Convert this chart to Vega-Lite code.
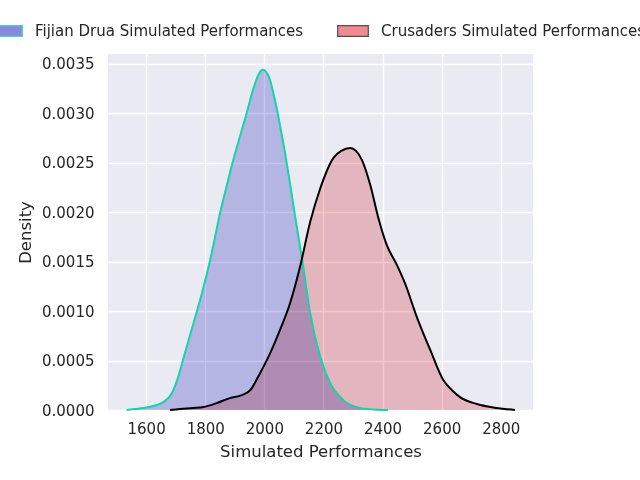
{
  "$schema": "https://vega.github.io/schema/vega-lite/v6.json",
  "autosize": {"type": "none"},
  "width": 425,
  "height": 356,
  "padding": {"left": 108, "top": 54, "right": 107, "bottom": 70},
  "background": "white",
  "config": {
    "font": "DejaVu Sans",
    "view": {"stroke": null, "fill": "#eaeaf2"},
    "axis": {
      "domain": false,
      "ticks": false,
      "grid": true,
      "gridColor": "white",
      "gridWidth": 1.4,
      "labelFont": "DejaVu Sans",
      "labelFontSize": 15,
      "labelColor": "#262626",
      "titleFont": "DejaVu Sans",
      "titleFontSize": 16.5,
      "titleFontWeight": "normal",
      "titleColor": "#262626"
    },
    "legend": {
      "labelFont": "DejaVu Sans",
      "labelFontSize": 15,
      "labelColor": "#262626",
      "labelLimit": 0
    }
  },
  "data": {
    "values": [
      {"team": "Fijian Drua Simulated Performances", "score": 1534, "density": 0},
      {"team": "Fijian Drua Simulated Performances", "score": 1560, "density": 0.00001},
      {"team": "Fijian Drua Simulated Performances", "score": 1590, "density": 0.00002},
      {"team": "Fijian Drua Simulated Performances", "score": 1624, "density": 0.00004},
      {"team": "Fijian Drua Simulated Performances", "score": 1658, "density": 0.00008},
      {"team": "Fijian Drua Simulated Performances", "score": 1687, "density": 0.00017},
      {"team": "Fijian Drua Simulated Performances", "score": 1709, "density": 0.00034},
      {"team": "Fijian Drua Simulated Performances", "score": 1726, "density": 0.00052},
      {"team": "Fijian Drua Simulated Performances", "score": 1749, "density": 0.00076},
      {"team": "Fijian Drua Simulated Performances", "score": 1771, "density": 0.00099},
      {"team": "Fijian Drua Simulated Performances", "score": 1794, "density": 0.00124},
      {"team": "Fijian Drua Simulated Performances", "score": 1810, "density": 0.00143},
      {"team": "Fijian Drua Simulated Performances", "score": 1827, "density": 0.00166},
      {"team": "Fijian Drua Simulated Performances", "score": 1850, "density": 0.00199},
      {"team": "Fijian Drua Simulated Performances", "score": 1873, "density": 0.00227},
      {"team": "Fijian Drua Simulated Performances", "score": 1895, "density": 0.00253},
      {"team": "Fijian Drua Simulated Performances", "score": 1918, "density": 0.00277},
      {"team": "Fijian Drua Simulated Performances", "score": 1940, "density": 0.003},
      {"team": "Fijian Drua Simulated Performances", "score": 1963, "density": 0.00325},
      {"team": "Fijian Drua Simulated Performances", "score": 1980, "density": 0.00339},
      {"team": "Fijian Drua Simulated Performances", "score": 1995, "density": 0.00344},
      {"team": "Fijian Drua Simulated Performances", "score": 2008, "density": 0.00341},
      {"team": "Fijian Drua Simulated Performances", "score": 2019, "density": 0.00334},
      {"team": "Fijian Drua Simulated Performances", "score": 2030, "density": 0.00321},
      {"team": "Fijian Drua Simulated Performances", "score": 2042, "density": 0.00305},
      {"team": "Fijian Drua Simulated Performances", "score": 2053, "density": 0.00288},
      {"team": "Fijian Drua Simulated Performances", "score": 2070, "density": 0.0026},
      {"team": "Fijian Drua Simulated Performances", "score": 2087, "density": 0.00229},
      {"team": "Fijian Drua Simulated Performances", "score": 2104, "density": 0.00196},
      {"team": "Fijian Drua Simulated Performances", "score": 2130, "density": 0.00148},
      {"team": "Fijian Drua Simulated Performances", "score": 2155, "density": 0.00098},
      {"team": "Fijian Drua Simulated Performances", "score": 2189, "density": 0.00054},
      {"team": "Fijian Drua Simulated Performances", "score": 2223, "density": 0.00027},
      {"team": "Fijian Drua Simulated Performances", "score": 2267, "density": 0.0001},
      {"team": "Fijian Drua Simulated Performances", "score": 2324, "density": 0.00002},
      {"team": "Fijian Drua Simulated Performances", "score": 2370, "density": 0.000005},
      {"team": "Fijian Drua Simulated Performances", "score": 2418, "density": 0},
      {"team": "Crusaders Simulated Performances", "score": 1681, "density": 0},
      {"team": "Crusaders Simulated Performances", "score": 1715, "density": 0.00001},
      {"team": "Crusaders Simulated Performances", "score": 1760, "density": 0.00002},
      {"team": "Crusaders Simulated Performances", "score": 1794, "density": 0.00003},
      {"team": "Crusaders Simulated Performances", "score": 1839, "density": 0.00007},
      {"team": "Crusaders Simulated Performances", "score": 1884, "density": 0.00012},
      {"team": "Crusaders Simulated Performances", "score": 1924, "density": 0.00015},
      {"team": "Crusaders Simulated Performances", "score": 1952, "density": 0.0002},
      {"team": "Crusaders Simulated Performances", "score": 1985, "density": 0.00037},
      {"team": "Crusaders Simulated Performances", "score": 2019, "density": 0.00057},
      {"team": "Crusaders Simulated Performances", "score": 2053, "density": 0.00081},
      {"team": "Crusaders Simulated Performances", "score": 2087, "density": 0.00108},
      {"team": "Crusaders Simulated Performances", "score": 2121, "density": 0.00145},
      {"team": "Crusaders Simulated Performances", "score": 2155, "density": 0.0019},
      {"team": "Crusaders Simulated Performances", "score": 2189, "density": 0.00224},
      {"team": "Crusaders Simulated Performances", "score": 2234, "density": 0.00255},
      {"team": "Crusaders Simulated Performances", "score": 2260, "density": 0.00262},
      {"team": "Crusaders Simulated Performances", "score": 2291, "density": 0.00265},
      {"team": "Crusaders Simulated Performances", "score": 2310, "density": 0.00262},
      {"team": "Crusaders Simulated Performances", "score": 2330, "density": 0.00253},
      {"team": "Crusaders Simulated Performances", "score": 2358, "density": 0.00228},
      {"team": "Crusaders Simulated Performances", "score": 2386, "density": 0.00194},
      {"team": "Crusaders Simulated Performances", "score": 2414, "density": 0.00167},
      {"team": "Crusaders Simulated Performances", "score": 2448, "density": 0.00147},
      {"team": "Crusaders Simulated Performances", "score": 2476, "density": 0.00128},
      {"team": "Crusaders Simulated Performances", "score": 2516, "density": 0.00094},
      {"team": "Crusaders Simulated Performances", "score": 2561, "density": 0.00061},
      {"team": "Crusaders Simulated Performances", "score": 2606, "density": 0.0003},
      {"team": "Crusaders Simulated Performances", "score": 2635, "density": 0.0002},
      {"team": "Crusaders Simulated Performances", "score": 2662, "density": 0.00013},
      {"team": "Crusaders Simulated Performances", "score": 2719, "density": 0.00006},
      {"team": "Crusaders Simulated Performances", "score": 2786, "density": 0.00002},
      {"team": "Crusaders Simulated Performances", "score": 2848, "density": 0}
    ]
  },
  "encoding": {
    "x": {
      "field": "score",
      "type": "quantitative",
      "title": "Simulated Performances",
      "scale": {"domain": [1471, 2909], "nice": false, "zero": false},
      "axis": {"values": [1600, 1800, 2000, 2200, 2400, 2600, 2800], "format": "d", "labelPadding": 11, "titlePadding": 7}
    },
    "y": {
      "field": "density",
      "type": "quantitative",
      "title": "Density",
      "stack": null,
      "scale": {"domain": [0, 0.0036], "nice": false},
      "axis": {"values": [0, 0.0005, 0.001, 0.0015, 0.002, 0.0025, 0.003, 0.0035], "format": ".4f", "labelPadding": 14, "titlePadding": 8}
    }
  },
  "layer": [
    {
      "mark": {"type": "area", "interpolate": "monotone", "blend": "multiply", "fillOpacity": 0.49},
      "encoding": {
        "fill": {
          "field": "team",
          "type": "nominal",
          "scale": {
            "domain": ["Fijian Drua Simulated Performances", "Crusaders Simulated Performances"],
            "range": ["#8b88e0", "#f08a91"]
          },
          "legend": {
            "title": null,
            "orient": "none",
            "direction": "horizontal",
            "columns": 2,
            "legendX": -117,
            "legendY": -39,
            "padding": 0,
            "symbolType": "M-1,-0.35H1V0.35H-1Z",
            "symbolSize": 936,
            "labelOffset": 12,
            "columnPadding": 31,
            "encode": {
              "symbols": {
                "update": {
                  "stroke": {"signal": "datum.value === 'Fijian Drua Simulated Performances' ? '#3fd8c0' : '#5a4a4c'"},
                  "strokeWidth": {"value": 1.2},
                  "fillOpacity": {"value": 1},
                  "opacity": {"value": 1}
                }
              }
            }
          }
        }
      }
    },
    {
      "mark": {"type": "line", "interpolate": "monotone", "strokeWidth": 2},
      "encoding": {
        "stroke": {
          "field": "team",
          "type": "nominal",
          "scale": {
            "domain": ["Fijian Drua Simulated Performances", "Crusaders Simulated Performances"],
            "range": ["#14d4aa", "#000000"]
          },
          "legend": null
        }
      }
    }
  ],
  "resolve": {"scale": {"stroke": "independent", "fill": "independent"}}
}
